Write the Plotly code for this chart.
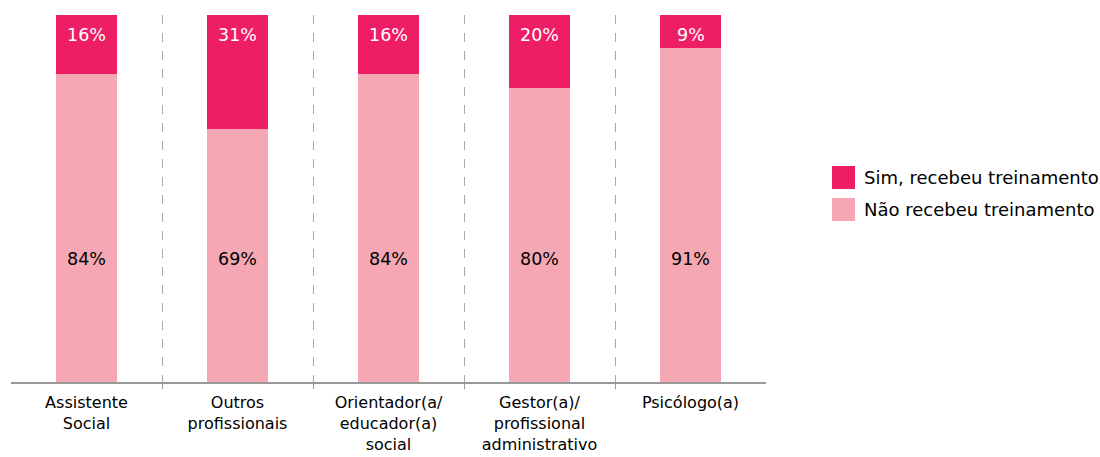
import plotly.graph_objects as go

categories = ["Assistente<br>Social", "Outros<br>profissionais", "Orientador(a/<br>educador(a)<br>social",
              "Gestor(a)/<br>profissional<br>administrativo", "Psicólogo(a)"]
sim = [16, 31, 16, 20, 9]
nao = [84, 69, 84, 80, 91]
sim_name = "Sim, recebeu treinamento"
nao_name = "Não recebeu treinamento"

DARK = "#ED1E65"
LIGHT = "#F5A7B4"
FONT = "DejaVu Sans"
FS = 17.5
TICK_FS = 16

fig = go.Figure()
fig.add_trace(go.Bar(x=categories, y=nao, name=nao_name, marker_color=LIGHT, marker_line_width=0,
                     hoverinfo="skip", showlegend=False))
fig.add_trace(go.Bar(x=categories, y=sim, name=sim_name, marker_color=DARK, marker_line_width=0,
                     hoverinfo="skip", showlegend=False))
# invisible trace to drive the separator axis
fig.add_trace(go.Scatter(x=[0], y=[0], xaxis="x2", mode="markers", marker_opacity=0,
                         showlegend=False, hoverinfo="skip"))

annotations = []
for c, s, n in zip(categories, sim, nao):
    annotations.append(dict(x=c, y=94.6, xref="x", yref="y", text=f"{s}%", showarrow=False,
                            font=dict(color="white", size=FS, family=FONT)))
    annotations.append(dict(x=c, y=33.6, xref="x", yref="y", text=f"{n}%", showarrow=False,
                            font=dict(color="black", size=FS, family=FONT)))

# custom legend (square swatches + text)
shapes = []
legend_items = [(sim_name, DARK, 0.5886, 0.5259), (nao_name, LIGHT, 0.5014, 0.4387)]
for name, col, y1, y0 in legend_items:
    shapes.append(dict(type="rect", xref="paper", yref="paper", x0=1.0874, x1=1.1179,
                       y0=y0, y1=y1, fillcolor=col, line_width=0))
    annotations.append(dict(x=1.1272, y=(y0 + y1) / 2, xref="paper", yref="paper", text=name,
                            showarrow=False, xanchor="left", yanchor="middle",
                            font=dict(color="black", size=18, family=FONT)))

n = len(categories)
fig.update_layout(
    barmode="stack",
    bargap=0.595,
    width=1100, height=457,
    margin=dict(l=11, r=334, t=15, b=75),
    paper_bgcolor="white", plot_bgcolor="white",
    font=dict(family=FONT, size=FS, color="black"),
    xaxis=dict(range=[-0.5, n - 0.5], showgrid=False, showline=True, linecolor="#999999",
               linewidth=2, ticks="", tickfont=dict(size=TICK_FS, color="black"), tickangle=0,
               automargin=False, ticklabelstandoff=5),
    xaxis2=dict(overlaying="x", range=[-0.5, n - 0.5], tickvals=[i + 0.5 for i in range(n - 1)],
                showticklabels=False, ticks="outside", ticklen=6, tickcolor="#999999", tickwidth=1,
                showgrid=True, gridcolor="#AAAAAA", griddash="dash", gridwidth=1,
                side="bottom", showline=False, zeroline=False, automargin=False),
    yaxis=dict(range=[0, 100], visible=False),
    annotations=annotations,
    shapes=shapes,
    showlegend=False,
)
fig.write_html("out.html", config={"displayModeBar": False},
               post_script="document.body.style.margin='0';document.body.style.overflow='hidden';")
